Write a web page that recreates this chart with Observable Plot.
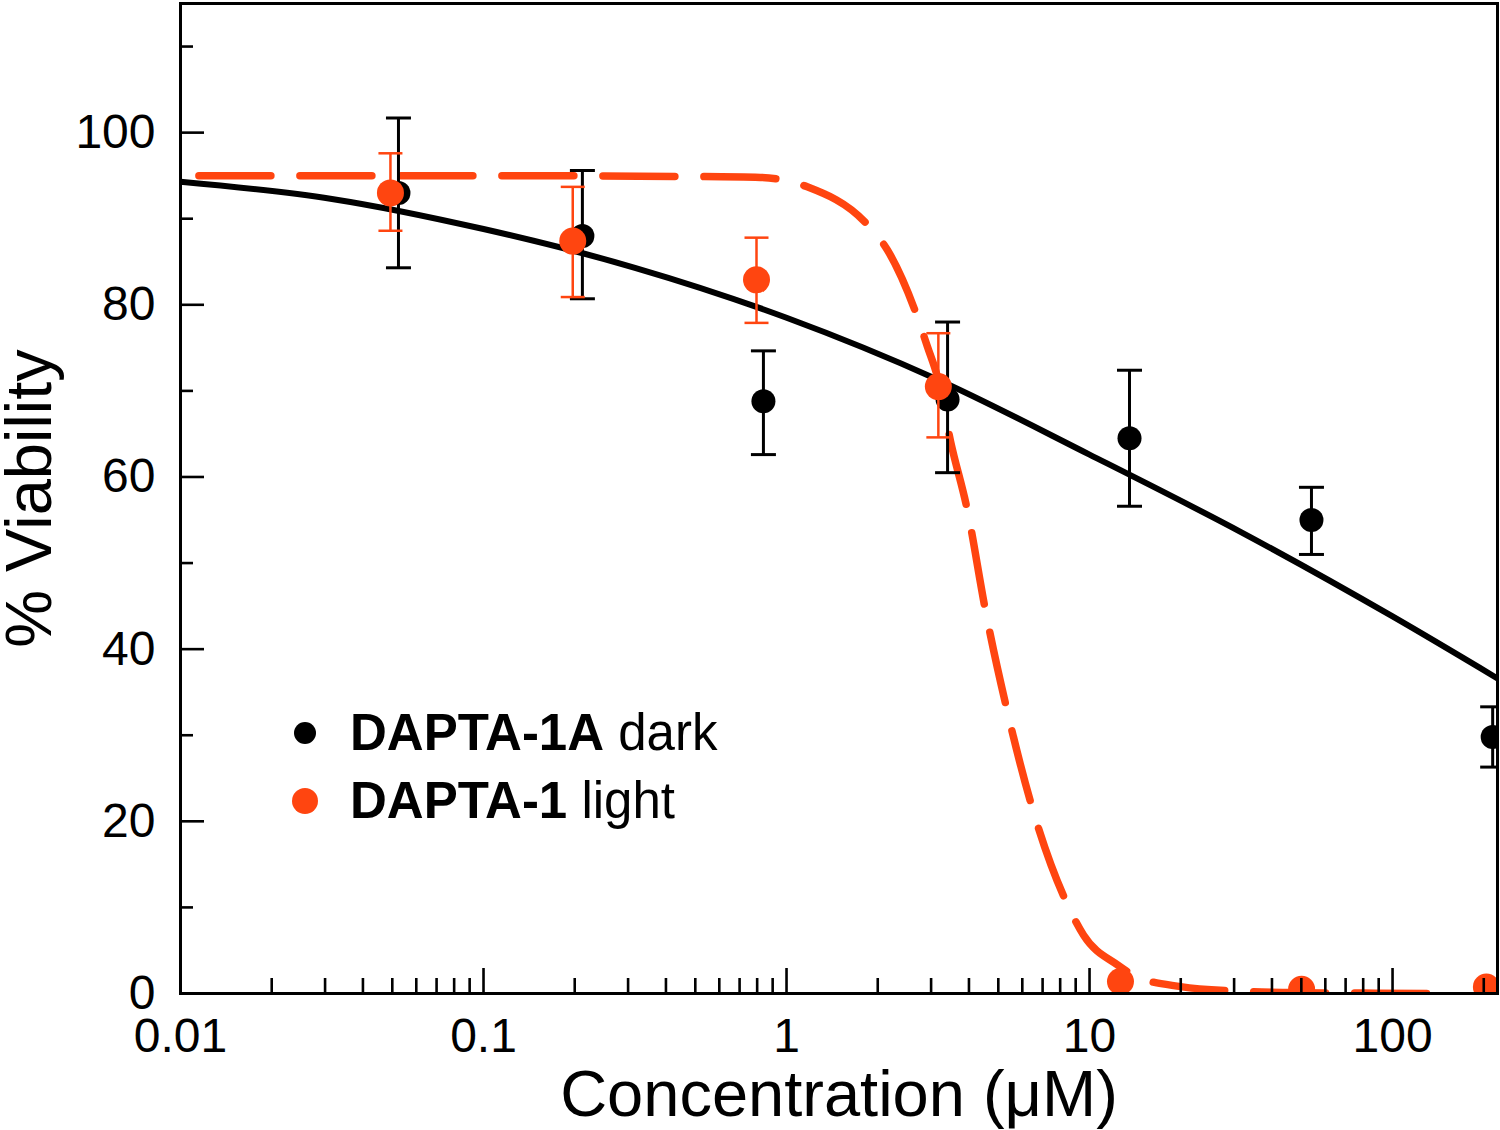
<!DOCTYPE html>
<html>
<head>
<meta charset="utf-8">
<script src="https://cdn.jsdelivr.net/npm/d3@7"></script>
<script src="https://cdn.jsdelivr.net/npm/@observablehq/plot@0.6"></script>
<style>
  body { margin: 0; background: #fff; }
  #wrap { position: relative; width: 1500px; height: 1130px; font-family: "Liberation Sans", Arial, Helvetica, sans-serif; }
  #legend { position: absolute; left: 0; top: 0; pointer-events: none; }
</style>
</head>
<body>
<div id="wrap"></div>
<script>
// ---------- data ----------
const darkConc = [0.0524, 0.212, 0.839, 3.40, 13.55, 54.0, 214];
const darkMean = [93.0, 88.0, 68.8, 69.0, 64.5, 55.0, 29.8];
const darkLo   = [84.3, 80.7, 62.6, 60.5, 56.6, 51.0, 26.3];
const darkHi   = [101.7, 95.6, 74.65, 78.0, 72.4, 58.8, 33.3];

const lightConc = [0.0493, 0.197, 0.796, 3.17, 12.65, 50.1, 204];
const lightMean = [93.0, 87.4, 82.9, 70.5, 1.4, 0.5, 0.75];
const lightLo   = [88.6, 80.9, 77.9, 64.6, null, null, null];
const lightHi   = [97.6, 93.7, 87.8, 76.7, null, null, null];

// fitted curves
const darkFitConc = [0.01, 0.0316, 0.1, 0.316, 1, 3.16, 10, 31.6, 100, 222];
const darkFitVal  = [94.3, 92.3, 88.8, 84.3, 78.5, 71.3, 62.6, 53.6, 43.8, 36.6];

const lightFitConc = [0.0115, 0.1, 0.5, 0.82, 1.17, 1.85, 2.15, 2.67, 2.92, 3.15, 3.48, 3.96, 4.54, 5.36, 6.53, 8.46, 9.55, 12.4, 14.4, 20, 30, 50, 80, 150];
const lightFitVal  = [95.0, 95.0, 94.9, 94.8, 93.7, 89.3, 86.4, 79.1, 75.1, 71.6, 64.1, 56.0, 44.4, 32.7, 21.1, 10.3, 6.8, 3.3, 1.9, 0.8, 0.3, 0.1, 0.05, 0.0];

const xMajorTicks = [0.01, 0.1, 1, 10, 100];
const xTickLabels = ["0.01", "0.1", "1", "10", "100"];
const xMinorTicks = [0.02,0.03,0.04,0.05,0.06,0.07,0.08,0.09,
                     0.2,0.3,0.4,0.5,0.6,0.7,0.8,0.9,
                     2,3,4,5,6,7,8,9,
                     20,30,40,50,60,70,80,90,
                     200];
const yMajorTicks = [0, 20, 40, 60, 80, 100];
const yMinorTicks = [10, 30, 50, 70, 90, 110];

const xLabel = "Concentration (μM)";
const yLabel = "% Viability";
const legendItems = [
  {bold: "DAPTA-1A", rest: " dark", color: "#000000", r: 11},
  {bold: "DAPTA-1", rest: " light", color: "#ff4510", r: 13}
];

const BLACK = "#000000";
const ORANGE = "#ff4510";

// ---------- tables ----------
const dark = darkConc.map((c, i) => ({c, v: darkMean[i], lo: darkLo[i], hi: darkHi[i]}));
const light = lightConc.map((c, i) => ({c, v: lightMean[i], lo: lightLo[i], hi: lightHi[i]}));
const lightErr = light.filter(d => d.lo != null);
const darkFit = darkFitConc.map((c, i) => ({c, v: darkFitVal[i]}));
const lightFit = lightFitConc.map((c, i) => ({c, v: lightFitVal[i]}));

const W = 1500, H = 1130;
const mL = 180, mR = 3, mT = 3, mB = 137;
const innerW = W - mL - mR, innerH = H - mT - mB;

// horizontal cap symbol for error bars
const capSymbol = {
  draw(context, size) {
    const r = Math.sqrt(size / Math.PI);
    context.moveTo(-r, 0);
    context.lineTo(r, 0);
  }
};

const chart = Plot.plot({
  width: W,
  height: H,
  marginLeft: mL,
  marginRight: mR,
  marginTop: mT,
  marginBottom: mB,
  style: {fontFamily: '"Liberation Sans", Arial, Helvetica, sans-serif', fontSize: "48px", background: "#fff", color: "#000"},
  x: {type: "log", domain: [0.01, 222], axis: null},
  y: {domain: [0, 115], axis: null},
  marks: [
    // fitted curves
    Plot.line(darkFit, {x: "c", y: "v", stroke: BLACK, strokeWidth: 6, curve: "monotone-x", clip: true}),
    Plot.line(lightFit, {x: "c", y: "v", stroke: ORANGE, strokeWidth: 7.5, strokeDasharray: "72,29", curve: "monotone-x", clip: true}),
    // dark error bars + dots
    Plot.ruleX(dark, {x: "c", y1: "lo", y2: "hi", stroke: BLACK, strokeWidth: 3, clip: true}),
    Plot.dot(dark, {x: "c", y: "hi", symbol: capSymbol, r: 12.5, fill: "none", stroke: BLACK, strokeWidth: 3, clip: true}),
    Plot.dot(dark, {x: "c", y: "lo", symbol: capSymbol, r: 12.5, fill: "none", stroke: BLACK, strokeWidth: 3, clip: true}),
    Plot.dot(dark, {x: "c", y: "v", r: 12, fill: BLACK, stroke: "none", clip: true}),
    // light error bars + dots
    Plot.ruleX(lightErr, {x: "c", y1: "lo", y2: "hi", stroke: ORANGE, strokeWidth: 2.5, clip: true}),
    Plot.dot(lightErr, {x: "c", y: "hi", symbol: capSymbol, r: 12, fill: "none", stroke: ORANGE, strokeWidth: 2.5, clip: true}),
    Plot.dot(lightErr, {x: "c", y: "lo", symbol: capSymbol, r: 12, fill: "none", stroke: ORANGE, strokeWidth: 2.5, clip: true}),
    Plot.dot(light, {x: "c", y: "v", r: 13.5, fill: ORANGE, stroke: "none", clip: true}),
    // inward ticks
    Plot.ruleX(xMajorTicks, {x: d => d, insetTop: innerH - 25, stroke: BLACK, strokeWidth: 2.6}),
    Plot.ruleX(xMinorTicks, {x: d => d, insetTop: innerH - 15, stroke: BLACK, strokeWidth: 2.6}),
    Plot.ruleY(yMajorTicks, {y: d => d, insetRight: innerW - 24, stroke: BLACK, strokeWidth: 2.6}),
    Plot.ruleY(yMinorTicks, {y: d => d, insetRight: innerW - 13, stroke: BLACK, strokeWidth: 2.6}),
    // tick labels
    Plot.axisX({ticks: xMajorTicks, tickFormat: d => xTickLabels[xMajorTicks.indexOf(d)], tickSize: 0, tickPadding: 24, fontSize: 48, label: null}),
    Plot.axisY({ticks: yMajorTicks, tickFormat: d => String(d), tickSize: 0, tickPadding: 25, fontSize: 48, label: null}),
    // axis titles
    Plot.text([xLabel], {text: d => d, frameAnchor: "bottom", dy: 122, lineAnchor: "bottom", textAnchor: "middle", fontSize: 65, fill: BLACK}),
    Plot.text([yLabel], {text: d => d, frameAnchor: "left", dx: -130, rotate: -90, lineAnchor: "bottom", textAnchor: "middle", fontSize: 65, fill: BLACK}),
    // frame
    Plot.frame({stroke: BLACK, strokeWidth: 3})
  ]
});

const wrap = document.getElementById("wrap");
wrap.appendChild(chart);

// legend overlay
const ns = "http://www.w3.org/2000/svg";
const leg = document.createElementNS(ns, "svg");
leg.setAttribute("id", "legend");
leg.setAttribute("width", W);
leg.setAttribute("height", H);
const legX = 305, legTextX = 350, legY0 = 733, legStep = 68;
legendItems.forEach((it, i) => {
  const cy = legY0 + i * legStep;
  const c = document.createElementNS(ns, "circle");
  c.setAttribute("cx", legX);
  c.setAttribute("cy", cy);
  c.setAttribute("r", it.r);
  c.setAttribute("fill", it.color);
  leg.appendChild(c);
  const t = document.createElementNS(ns, "text");
  t.setAttribute("x", legTextX);
  t.setAttribute("y", cy + 17);
  t.setAttribute("font-size", "51");
  t.setAttribute("font-family", '"Liberation Sans", Arial, Helvetica, sans-serif');
  t.setAttribute("fill", "#000");
  const b = document.createElementNS(ns, "tspan");
  b.setAttribute("font-weight", "bold");
  b.textContent = it.bold;
  const r = document.createElementNS(ns, "tspan");
  r.textContent = it.rest;
  t.appendChild(b);
  t.appendChild(r);
  leg.appendChild(t);
});
wrap.appendChild(leg);
</script>
</body>
</html>
